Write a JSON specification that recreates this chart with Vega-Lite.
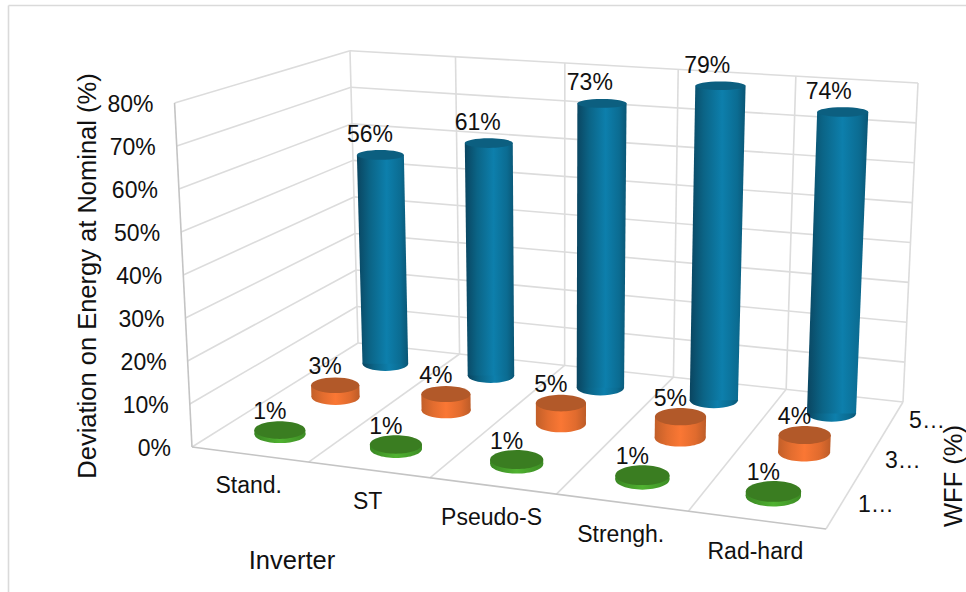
{
  "$schema": "https://vega.github.io/schema/vega-lite/v6.json",
  "width": 966,
  "height": 592,
  "padding": 0,
  "autosize": {"type": "fit", "contains": "padding"},
  "background": "#ffffff",
  "config": {"view": {"stroke": null}, "axis": {"disable": true}, "legend": {"disable": true}},
  "datasets": {
    "bars": [
      {"inverter": "Stand.", "wff": "5…", "value": 56},
      {"inverter": "ST", "wff": "5…", "value": 61},
      {"inverter": "Pseudo-S", "wff": "5…", "value": 73},
      {"inverter": "Strengh.", "wff": "5…", "value": 79},
      {"inverter": "Rad-hard", "wff": "5…", "value": 74},
      {"inverter": "Stand.", "wff": "3…", "value": 3},
      {"inverter": "ST", "wff": "3…", "value": 4},
      {"inverter": "Pseudo-S", "wff": "3…", "value": 5},
      {"inverter": "Strengh.", "wff": "3…", "value": 5},
      {"inverter": "Rad-hard", "wff": "3…", "value": 4},
      {"inverter": "Stand.", "wff": "1…", "value": 1},
      {"inverter": "ST", "wff": "1…", "value": 1},
      {"inverter": "Pseudo-S", "wff": "1…", "value": 1},
      {"inverter": "Strengh.", "wff": "1…", "value": 1},
      {"inverter": "Rad-hard", "wff": "1…", "value": 1}
    ],
    "grid": [
      {"id": "b0", "kind": "wall", "s": 0, "t": 1, "v": 0}, {"id": "b0", "kind": "wall", "s": 1, "t": 1, "v": 0},
      {"id": "b10", "kind": "wall", "s": 0, "t": 1, "v": 10}, {"id": "b10", "kind": "wall", "s": 1, "t": 1, "v": 10},
      {"id": "b20", "kind": "wall", "s": 0, "t": 1, "v": 20}, {"id": "b20", "kind": "wall", "s": 1, "t": 1, "v": 20},
      {"id": "b30", "kind": "wall", "s": 0, "t": 1, "v": 30}, {"id": "b30", "kind": "wall", "s": 1, "t": 1, "v": 30},
      {"id": "b40", "kind": "wall", "s": 0, "t": 1, "v": 40}, {"id": "b40", "kind": "wall", "s": 1, "t": 1, "v": 40},
      {"id": "b50", "kind": "wall", "s": 0, "t": 1, "v": 50}, {"id": "b50", "kind": "wall", "s": 1, "t": 1, "v": 50},
      {"id": "b60", "kind": "wall", "s": 0, "t": 1, "v": 60}, {"id": "b60", "kind": "wall", "s": 1, "t": 1, "v": 60},
      {"id": "b70", "kind": "wall", "s": 0, "t": 1, "v": 70}, {"id": "b70", "kind": "wall", "s": 1, "t": 1, "v": 70},
      {"id": "b80", "kind": "wall", "s": 0, "t": 1, "v": 80}, {"id": "b80", "kind": "wall", "s": 1, "t": 1, "v": 80},
      {"id": "l0", "kind": "wall", "s": 0, "t": 0, "v": 0}, {"id": "l0", "kind": "wall", "s": 0, "t": 1, "v": 0},
      {"id": "l10", "kind": "wall", "s": 0, "t": 0, "v": 10}, {"id": "l10", "kind": "wall", "s": 0, "t": 1, "v": 10},
      {"id": "l20", "kind": "wall", "s": 0, "t": 0, "v": 20}, {"id": "l20", "kind": "wall", "s": 0, "t": 1, "v": 20},
      {"id": "l30", "kind": "wall", "s": 0, "t": 0, "v": 30}, {"id": "l30", "kind": "wall", "s": 0, "t": 1, "v": 30},
      {"id": "l40", "kind": "wall", "s": 0, "t": 0, "v": 40}, {"id": "l40", "kind": "wall", "s": 0, "t": 1, "v": 40},
      {"id": "l50", "kind": "wall", "s": 0, "t": 0, "v": 50}, {"id": "l50", "kind": "wall", "s": 0, "t": 1, "v": 50},
      {"id": "l60", "kind": "wall", "s": 0, "t": 0, "v": 60}, {"id": "l60", "kind": "wall", "s": 0, "t": 1, "v": 60},
      {"id": "l70", "kind": "wall", "s": 0, "t": 0, "v": 70}, {"id": "l70", "kind": "wall", "s": 0, "t": 1, "v": 70},
      {"id": "l80", "kind": "wall", "s": 0, "t": 0, "v": 80}, {"id": "l80", "kind": "wall", "s": 0, "t": 1, "v": 80},
      {"id": "c0", "kind": "wall", "s": 0, "t": 1, "v": 0}, {"id": "c0", "kind": "wall", "s": 0, "t": 1, "v": 80},
      {"id": "c1", "kind": "wall", "s": 0.2, "t": 1, "v": 0}, {"id": "c1", "kind": "wall", "s": 0.2, "t": 1, "v": 80},
      {"id": "c2", "kind": "wall", "s": 0.4, "t": 1, "v": 0}, {"id": "c2", "kind": "wall", "s": 0.4, "t": 1, "v": 80},
      {"id": "c3", "kind": "wall", "s": 0.6, "t": 1, "v": 0}, {"id": "c3", "kind": "wall", "s": 0.6, "t": 1, "v": 80},
      {"id": "c4", "kind": "wall", "s": 0.8, "t": 1, "v": 0}, {"id": "c4", "kind": "wall", "s": 0.8, "t": 1, "v": 80},
      {"id": "c5", "kind": "wall", "s": 1, "t": 1, "v": 0}, {"id": "c5", "kind": "wall", "s": 1, "t": 1, "v": 80},
      {"id": "f1", "kind": "wall", "s": 0.2, "t": 0, "v": 0}, {"id": "f1", "kind": "wall", "s": 0.2, "t": 1, "v": 0},
      {"id": "f2", "kind": "wall", "s": 0.4, "t": 0, "v": 0}, {"id": "f2", "kind": "wall", "s": 0.4, "t": 1, "v": 0},
      {"id": "f3", "kind": "wall", "s": 0.6, "t": 0, "v": 0}, {"id": "f3", "kind": "wall", "s": 0.6, "t": 1, "v": 0},
      {"id": "f4", "kind": "wall", "s": 0.8, "t": 0, "v": 0}, {"id": "f4", "kind": "wall", "s": 0.8, "t": 1, "v": 0},
      {"id": "f5", "kind": "wall", "s": 1, "t": 0, "v": 0}, {"id": "f5", "kind": "wall", "s": 1, "t": 1, "v": 0},
      {"id": "e1", "kind": "edge", "s": 0, "t": 0, "v": 0}, {"id": "e1", "kind": "edge", "s": 0, "t": 0, "v": 80},
      {"id": "e2", "kind": "edge", "s": 0, "t": 0, "v": 0}, {"id": "e2", "kind": "edge", "s": 1, "t": 0, "v": 0}
    ],
    "ticks": [
      {"v": 0}, {"v": 10}, {"v": 20}, {"v": 30}, {"v": 40}, {"v": 50}, {"v": 60}, {"v": 70}, {"v": 80}
    ],
    "inverters": [
      {"inverter": "Stand."}, {"inverter": "ST"}, {"inverter": "Pseudo-S"}, {"inverter": "Strengh."}, {"inverter": "Rad-hard"}
    ],
    "depths": [{"wff": "5…"}, {"wff": "3…"}, {"wff": "1…"}]
  },
  "layer": [
    {
      "data": {"name": "grid"},
      "transform": [
        {"calculate": "1-0.09876*datum.s+0.17726*datum.t", "as": "w"},
        {"calculate": "(552.43*datum.s+229.46*datum.t+192)/datum.w", "as": "bx"},
        {"calculate": "(29.76*datum.s-43.2*datum.t+447)/datum.w", "as": "by"},
        {"calculate": "datum.v*4.3/datum.w", "as": "H"},
        {"calculate": "1+datum.H/(7700-datum.by)", "as": "m"},
        {"calculate": "560+(datum.bx-560)*datum.m", "as": "px"},
        {"calculate": "datum.by-datum.H", "as": "py"}
      ],
      "mark": {"type": "line", "strokeWidth": 1.6, "interpolate": "linear"},
      "encoding": {
        "x": {"field": "px", "type": "quantitative", "scale": {"domain": [0, 966], "range": [0, 966], "nice": false, "zero": false}},
        "y": {"field": "py", "type": "quantitative", "scale": {"domain": [0, 592], "range": [0, 592], "nice": false, "zero": false}},
        "detail": {"field": "id"},
        "order": {"field": "s"},
        "color": {"field": "kind", "type": "nominal", "scale": {"domain": ["wall", "edge"], "range": ["#dcdcdc", "#c4c4c4"]}}
      }
    },
    {
      "data": {"values": [{"edge": "left"}]},
      "mark": {"type": "rule", "stroke": "#dadada", "strokeWidth": 1.6},
      "encoding": {
        "x": {"datum": 8.5, "type": "quantitative"},
        "y": {"datum": 5.5, "type": "quantitative"},
        "y2": {"datum": 592}
      }
    },
    {
      "data": {"values": [{"edge": "top"}]},
      "mark": {"type": "rule", "stroke": "#dadada", "strokeWidth": 1.6},
      "encoding": {
        "y": {"datum": 5.5, "type": "quantitative"},
        "x": {"datum": 8.5, "type": "quantitative"},
        "x2": {"datum": 966}
      }
    },
    {
      "data": {"name": "bars"},
      "transform": [
        {"calculate": "(indexof(['Stand.','ST','Pseudo-S','Strengh.','Rad-hard'],datum.inverter)+0.5)/5", "as": "s"},
        {"calculate": "(indexof(['1…','3…','5…'],datum.wff)+0.5)/3", "as": "t"},
        {"calculate": "1-0.09876*datum.s+0.17726*datum.t", "as": "w"},
        {"calculate": "(552.43*datum.s+229.46*datum.t+192)/datum.w", "as": "bx"},
        {"calculate": "(29.76*datum.s-43.2*datum.t+447)/datum.w", "as": "by"},
        {"calculate": "format(0.13+0.0005*datum.by,'.3f')", "as": "r"},
        {"calculate": "format(0.5523*(0.13+0.0005*datum.by),'.3f')", "as": "q"},
        {"calculate": "'M-1,0C-1,-'+datum.q+' -0.5523,-'+datum.r+' 0,-'+datum.r+'C0.5523,-'+datum.r+' 1,-'+datum.q+' 1,0C1,'+datum.q+' 0.5523,'+datum.r+' 0,'+datum.r+'C-0.5523,'+datum.r+' -1,'+datum.q+' -1,0Z'", "as": "ellipse"},
        {"calculate": "pow(52/datum.w,2)", "as": "area"}
      ],
      "mark": {"type": "point", "filled": true, "opacity": 1, "strokeWidth": 0},
      "encoding": {
        "x": {"field": "bx", "type": "quantitative"},
        "y": {"field": "by", "type": "quantitative"},
        "shape": {"field": "ellipse", "type": "nominal", "scale": null},
        "size": {"field": "area", "type": "quantitative", "scale": null},
        "fill": {
          "condition": [
            {"test": "datum.wff==='5…'", "value": {"gradient": "linear", "x1": 0, "y1": 0, "x2": 1, "y2": 0, "stops": [{"offset": 0, "color": "#0a4560"}, {"offset": 0.25, "color": "#0b6486"}, {"offset": 0.58, "color": "#0d7fac"}, {"offset": 0.85, "color": "#0b6c92"}, {"offset": 1, "color": "#0a5675"}]}},
            {"test": "datum.wff==='3…'", "value": {"gradient": "linear", "x1": 0, "y1": 0, "x2": 1, "y2": 0, "stops": [{"offset": 0, "color": "#c25f29"}, {"offset": 0.25, "color": "#e36d2f"}, {"offset": 0.5, "color": "#fa7734"}, {"offset": 0.8, "color": "#e06b2e"}, {"offset": 1, "color": "#bd5c28"}]}}
          ],
          "value": {"gradient": "linear", "x1": 0, "y1": 0, "x2": 1, "y2": 0, "stops": [{"offset": 0, "color": "#3a8723"}, {"offset": 0.5, "color": "#50b231"}, {"offset": 1, "color": "#3d8d25"}]}
        }
      }
    },
    {
      "data": {"name": "bars"},
      "transform": [
        {"calculate": "0", "as": "floor"},
        {"fold": ["floor", "value"], "as": ["end", "v"]},
        {"calculate": "(indexof(['Stand.','ST','Pseudo-S','Strengh.','Rad-hard'],datum.inverter)+0.5)/5", "as": "s"},
        {"calculate": "(indexof(['1…','3…','5…'],datum.wff)+0.5)/3", "as": "t"},
        {"calculate": "1-0.09876*datum.s+0.17726*datum.t", "as": "w"},
        {"calculate": "(552.43*datum.s+229.46*datum.t+192)/datum.w", "as": "bx"},
        {"calculate": "(29.76*datum.s-43.2*datum.t+447)/datum.w", "as": "by"},
        {"calculate": "datum.v*4.3*(0.985+0.02*datum.s)/datum.w", "as": "H"},
        {"calculate": "1+datum.H/(7700-datum.by)", "as": "m"},
        {"calculate": "560+(datum.bx-560)*datum.m", "as": "px"},
        {"calculate": "datum.by-datum.H", "as": "py"},
        {"calculate": "datum.px-26/datum.w*datum.m", "as": "xl"},
        {"calculate": "datum.px+26/datum.w*datum.m", "as": "xr"},
        {"calculate": "datum.inverter+datum.wff", "as": "cyl"}
      ],
      "mark": {"type": "area", "orient": "horizontal", "opacity": 1},
      "encoding": {
        "y": {"field": "py", "type": "quantitative"},
        "x": {"field": "xl", "type": "quantitative", "stack": null},
        "x2": {"field": "xr"},
        "detail": {"field": "cyl"},
        "fill": {
          "condition": [
            {"test": "datum.wff==='5…'", "value": {"gradient": "linear", "x1": 0, "y1": 0, "x2": 1, "y2": 0, "stops": [{"offset": 0, "color": "#0a4560"}, {"offset": 0.25, "color": "#0b6486"}, {"offset": 0.58, "color": "#0d7fac"}, {"offset": 0.85, "color": "#0b6c92"}, {"offset": 1, "color": "#0a5675"}]}},
            {"test": "datum.wff==='3…'", "value": {"gradient": "linear", "x1": 0, "y1": 0, "x2": 1, "y2": 0, "stops": [{"offset": 0, "color": "#c25f29"}, {"offset": 0.25, "color": "#e36d2f"}, {"offset": 0.5, "color": "#fa7734"}, {"offset": 0.8, "color": "#e06b2e"}, {"offset": 1, "color": "#bd5c28"}]}}
          ],
          "value": {"gradient": "linear", "x1": 0, "y1": 0, "x2": 1, "y2": 0, "stops": [{"offset": 0, "color": "#3a8723"}, {"offset": 0.5, "color": "#50b231"}, {"offset": 1, "color": "#3d8d25"}]}
        }
      }
    },
    {
      "data": {"name": "bars"},
      "transform": [
        {"calculate": "(indexof(['Stand.','ST','Pseudo-S','Strengh.','Rad-hard'],datum.inverter)+0.5)/5", "as": "s"},
        {"calculate": "(indexof(['1…','3…','5…'],datum.wff)+0.5)/3", "as": "t"},
        {"calculate": "1-0.09876*datum.s+0.17726*datum.t", "as": "w"},
        {"calculate": "(552.43*datum.s+229.46*datum.t+192)/datum.w", "as": "bx"},
        {"calculate": "(29.76*datum.s-43.2*datum.t+447)/datum.w", "as": "by"},
        {"calculate": "datum.value*4.3*(0.985+0.02*datum.s)/datum.w", "as": "H"},
        {"calculate": "1+datum.H/(7700-datum.by)", "as": "m"},
        {"calculate": "560+(datum.bx-560)*datum.m", "as": "px"},
        {"calculate": "datum.by-datum.H", "as": "py"},
        {"calculate": "datum.px-0.015*datum.s*datum.H", "as": "lx"},
        {"calculate": "datum.py+(datum.value<10?3:1)", "as": "ly"},
        {"calculate": "format(0.13+0.0005*datum.py,'.3f')", "as": "r"},
        {"calculate": "format(0.5523*(0.13+0.0005*datum.py),'.3f')", "as": "q"},
        {"calculate": "'M-1,0C-1,-'+datum.q+' -0.5523,-'+datum.r+' 0,-'+datum.r+'C0.5523,-'+datum.r+' 1,-'+datum.q+' 1,0C1,'+datum.q+' 0.5523,'+datum.r+' 0,'+datum.r+'C-0.5523,'+datum.r+' -1,'+datum.q+' -1,0Z'", "as": "ellipse"},
        {"calculate": "pow(52/datum.w*datum.m,2)", "as": "area"}
      ],
      "layer": [
        {
          "mark": {"type": "point", "filled": true, "opacity": 1, "strokeWidth": 0},
          "encoding": {
            "x": {"field": "px", "type": "quantitative"},
            "y": {"field": "py", "type": "quantitative"},
            "shape": {"field": "ellipse", "type": "nominal", "scale": null},
            "size": {"field": "area", "type": "quantitative", "scale": null},
            "fill": {"field": "wff", "type": "nominal", "scale": {"domain": ["5…", "3…", "1…"], "range": ["#0c5f80", "#b25929", "#3a7d21"]}}
          }
        },
        {
          "transform": [{"calculate": "datum.value+'%'", "as": "label"}],
          "mark": {"type": "text", "font": "Liberation Sans", "fontSize": 23, "color": "#111111", "align": "center", "baseline": "middle", "dx": -10, "dy": -21},
          "encoding": {
            "x": {"field": "lx", "type": "quantitative"},
            "y": {"field": "ly", "type": "quantitative"},
            "text": {"field": "label"}
          }
        }
      ]
    },
    {
      "data": {"name": "ticks"},
      "transform": [
        {"calculate": "datum.v*4.3", "as": "H"},
        {"calculate": "1+datum.H/7253", "as": "m"},
        {"calculate": "560-368*datum.m", "as": "px"},
        {"calculate": "447-datum.H", "as": "py"},
        {"calculate": "datum.v+'%'", "as": "label"}
      ],
      "mark": {"type": "text", "font": "Liberation Sans", "fontSize": 23, "color": "#111111", "align": "right", "baseline": "middle", "dx": -21, "dy": 2},
      "encoding": {
        "x": {"field": "px", "type": "quantitative"},
        "y": {"field": "py", "type": "quantitative"},
        "text": {"field": "label"}
      }
    },
    {
      "data": {"name": "inverters"},
      "transform": [
        {"calculate": "(indexof(['Stand.','ST','Pseudo-S','Strengh.','Rad-hard'],datum.inverter)+0.5)/5", "as": "s"},
        {"calculate": "1-0.09876*datum.s", "as": "w"},
        {"calculate": "(552.43*datum.s+192)/datum.w", "as": "bx"},
        {"calculate": "(29.76*datum.s+447)/datum.w", "as": "by"}
      ],
      "mark": {"type": "text", "font": "Liberation Sans", "fontSize": 23, "color": "#111111", "align": "center", "baseline": "middle", "dx": -1, "dy": 32},
      "encoding": {
        "x": {"field": "bx", "type": "quantitative"},
        "y": {"field": "by", "type": "quantitative"},
        "text": {"field": "inverter"}
      }
    },
    {
      "data": {"name": "depths"},
      "transform": [
        {"calculate": "(indexof(['1…','3…','5…'],datum.wff)+0.5)/3", "as": "t"},
        {"calculate": "1-0.09876+0.17726*datum.t", "as": "w"},
        {"calculate": "(552.43+229.46*datum.t+192)/datum.w", "as": "bx"},
        {"calculate": "(29.76-43.2*datum.t+447)/datum.w", "as": "by"}
      ],
      "mark": {"type": "text", "font": "Liberation Sans", "fontSize": 23, "color": "#111111", "align": "center", "baseline": "middle", "dx": 35, "dy": 1},
      "encoding": {
        "x": {"field": "bx", "type": "quantitative"},
        "y": {"field": "by", "type": "quantitative"},
        "text": {"field": "wff"}
      }
    },
    {
      "data": {"values": [{"title": "Deviation on Energy at Nominal (%)", "anchor": 192, "level": 276}]},
      "mark": {"type": "text", "font": "Liberation Sans", "fontSize": 25.5, "color": "#111111", "align": "center", "baseline": "alphabetic", "angle": 270, "dy": -96},
      "encoding": {
        "x": {"field": "anchor", "type": "quantitative"},
        "y": {"field": "level", "type": "quantitative"},
        "text": {"field": "title"}
      }
    },
    {
      "data": {"values": [{"title": "Inverter", "anchor": 292, "level": 447}]},
      "mark": {"type": "text", "font": "Liberation Sans", "fontSize": 25.5, "color": "#111111", "align": "center", "baseline": "middle", "dy": 114},
      "encoding": {
        "x": {"field": "anchor", "type": "quantitative"},
        "y": {"field": "level", "type": "quantitative"},
        "text": {"field": "title"}
      }
    },
    {
      "data": {"values": [{"title": "WFF (%)", "anchor": 903, "level": 476}]},
      "mark": {"type": "text", "font": "Liberation Sans", "fontSize": 25.5, "color": "#111111", "align": "center", "baseline": "alphabetic", "angle": 270, "dy": 59},
      "encoding": {
        "x": {"field": "anchor", "type": "quantitative"},
        "y": {"field": "level", "type": "quantitative"},
        "text": {"field": "title"}
      }
    }
  ]
}
